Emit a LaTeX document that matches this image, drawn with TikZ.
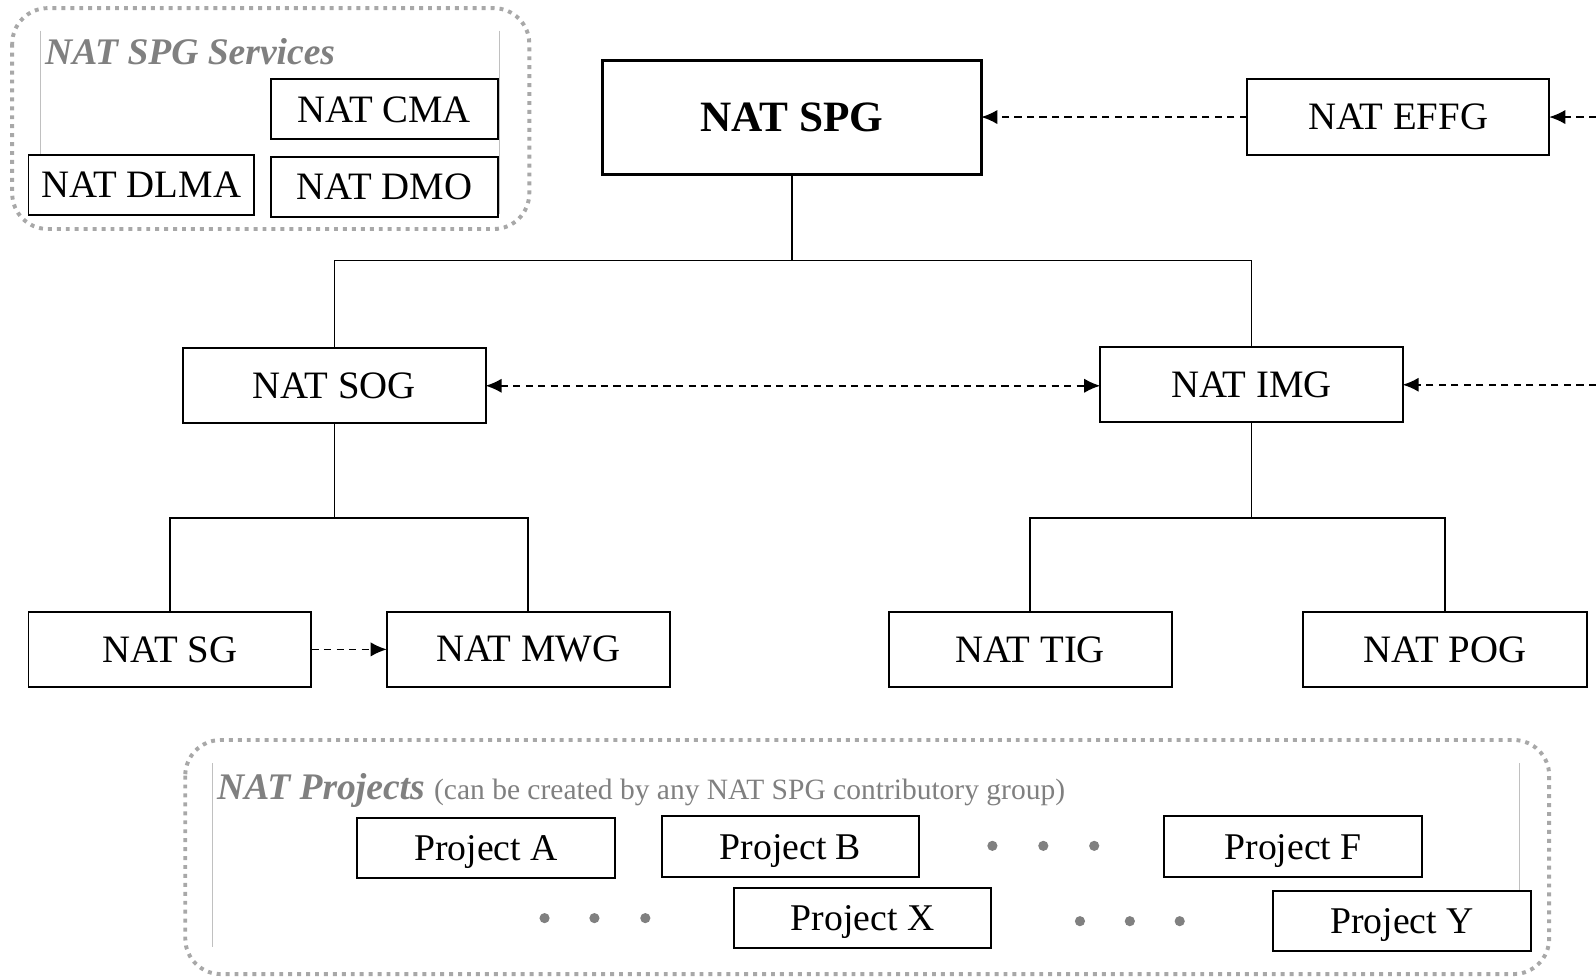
\documentclass[tikz,border=0pt]{standalone}
\usepackage{fontspec}
\setmainfont{Liberation Serif}
\usetikzlibrary{arrows.meta}
\definecolor{titlegray}{HTML}{808080}
\definecolor{framegray}{HTML}{A8A8A8}
\definecolor{rulegray}{HTML}{C0C0C0}
\def\px{0.02cm}
\tikzset{
  box/.style={draw=black, line width=1.1pt, fill=white, inner sep=0pt, outer sep=0pt,
    minimum width=#1*\px, font=\fontsize{21.7}{24}\selectfont},
  box/.default=297,
  tall/.style={minimum height=74*\px},
  short/.style={minimum height=59*\px},
  projbox/.style={draw=black, line width=1.1pt, fill=white, inner sep=0pt, outer sep=0pt,
    minimum width=253*\px, minimum height=59*\px, text depth=0pt,
    font=\fontsize{21.1}{24}\selectfont},
  tree/.style={line width=0.9pt},
  link/.style={line width=1pt, dash pattern=on 4pt off 3pt},
  tip/.style={-{Latex[length=9pt,width=8pt]}},
  frame/.style={draw=framegray, line width=2.2pt, dash pattern=on 2.2pt off 2.8pt,
    rounded corners=0.7cm},
  inner rule/.style={draw=rulegray, line width=0.6pt},
  grouptitle/.style={anchor=base west, inner sep=0pt, text=titlegray,
    font=\fontsize{21}{24}\selectfont\bfseries\itshape},
  ellipsisdot/.style={fill=titlegray}
}
\begin{document}
\begin{tikzpicture}[x=0.02cm, y=-0.02cm]
\useasboundingbox (0,0) rectangle (1568,959);

% services group
\draw[frame] (12,8) rectangle (520,225);
\draw[inner rule] (40,30) -- (40,152);
\draw[inner rule] (491,30) -- (491,210);
\node[grouptitle] (svctitle) at (44,63) {NAT SPG Services};
\node[box=223, short] (cma) at (377.5,107.5) {NAT CMA};
\node[box=222, short] (dlma) at (139,181.5) {NAT DLMA};
\node[box=223, short] (dmo) at (377.5,183.5) {NAT DMO};

% top of the hierarchy
\node[box=372, minimum height=112*\px, line width=1.7pt,
      font=\fontsize{24.2}{28}\selectfont\bfseries] (spg) at (778,115) {NAT SPG};
\node[box, tall] (effg) at (1373.5,115) {NAT EFFG};
\coordinate (effgin) at (1568,115);

% second level
\node[box, tall] (sog) at (328.5,379) {NAT SOG};
\node[box, tall] (img) at (1229.5,378) {NAT IMG};
\coordinate (imgin) at (1568,378);

% third level
\node[box=278, tall] (sg) at (167,638) {NAT SG};
\node[box=278, tall] (mwg) at (519,638) {NAT MWG};
\node[box=278, tall] (tig) at (1012,638) {NAT TIG};
\node[box=279, tall] (pog) at (1419.5,638) {NAT POG};

% reporting lines
\draw[tree] (spg.south) -- (spg.south |- 0,256) -| (sog.north);
\draw[tree] (spg.south |- 0,256) -| (img.north);
\draw[tree] (sog.south) -- (sog.south |- 0,509) -| (sg.north);
\draw[tree] (sog.south |- 0,509) -| (mwg.north);
\draw[tree] (img.south) -- (img.south |- 0,509) -| (tig.north);
\draw[tree] (img.south |- 0,509) -| (pog.north);

% cooperation links
\draw[link, tip] (effg.west) -- (spg.east);
\draw[link, tip] (effgin) -- (effg.east);
\draw[link, {Latex[length=9pt,width=8pt]}-{Latex[length=9pt,width=8pt]}] (sog.east) -- (sog.east -| img.west);
\draw[link, tip] (imgin) -- (img.east);
\draw[link, tip] (sg.east) -- (mwg.west);

% projects group
\draw[frame] (182,727) rectangle (1522,957);
\draw[inner rule] (209,750) -- (209,930);
\draw[inner rule] (1493,750) -- (1493,876);
\node[grouptitle] (projtitle) at (213,785) {NAT Projects\ \fontsize{16.5}{18}\selectfont\mdseries\upshape (can be created by any NAT SPG contributory group)};
\node[projbox] (pa) at (477.5,833.5) {Project A};
\node[projbox, minimum height=60*\px] (pb) at (776.5,832) {Project B};
\node[projbox, minimum height=60*\px] (pf) at (1270.5,832) {Project F};
\node[projbox] (px) at (847.5,901.5) {Project X};
\node[projbox] (py) at (1377.5,905) {Project Y};
\foreach \x in {975,1025,1075} \fill[ellipsisdot] (\x,831) circle[radius=0.1cm];
\foreach \x in {535,584,634} \fill[ellipsisdot] (\x,902) circle[radius=0.1cm];
\foreach \x in {1061,1110,1159} \fill[ellipsisdot] (\x,905) circle[radius=0.1cm];
\end{tikzpicture}
\end{document}
